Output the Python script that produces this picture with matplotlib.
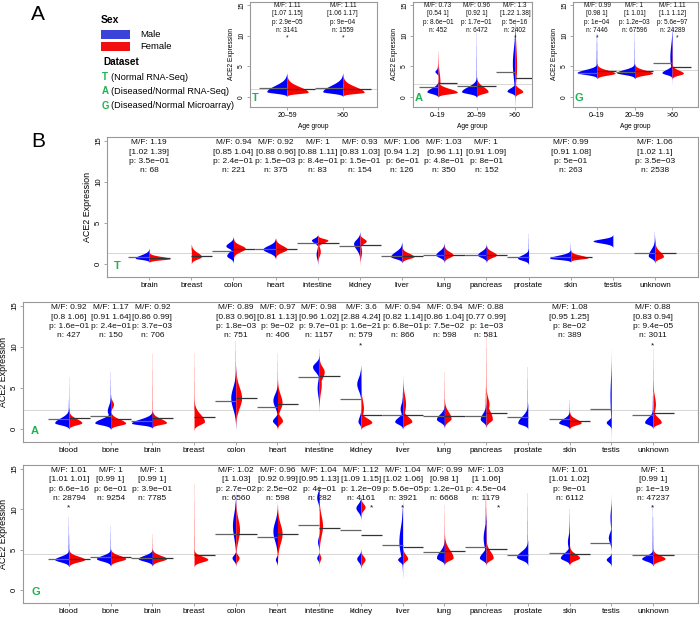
import numpy as np
import matplotlib
matplotlib.use("Agg")
import matplotlib.pyplot as plt
from matplotlib.patches import Rectangle

plt.rcParams['font.family'] = ['Liberation Sans', 'DejaVu Sans']

BLUE = '#0000ff'
RED = '#ff0000'
GREEN = '#1db34f'
FRAME = '#999999'

# ---------------------------------------------------------------------------
# Data: each half violin is a list of lumps (centre, sd below, sd above, width)
# ---------------------------------------------------------------------------

# --- A: age groups -----------------------------------------------------------
age_t_cats = ['20–59', '>60']
age_t_male = [[(0.9, 0.25, 1.0, 0.36)], [(0.9, 0.25, 1.0, 0.36)]]
age_t_female = [[(0.8, 0.2, 0.9, 0.38)], [(0.8, 0.2, 0.9, 0.38)]]
age_t_tail_m = [3.4, 3.4]
age_t_tail_f = [3.4, 3.4]
age_t_med_m = [1.45, 1.5]
age_t_med_f = [1.35, 1.35]
age_t_stats = [('1.11', '1.07 1.15', '2.9e−05', '3141'),
               ('1.11', '1.06 1.17', '9e−04', '1559')]
age_t_star = [0, 0]
age_t_ref = 1.4

age_a_cats = ['0–19', '20–59', '>60']
age_a_male = [[(0.9, 0.3, 0.6, 0.29), (4.2, 0.3, 0.3, 0.08)],
              [(0.9, 0.3, 0.8, 0.39)],
              [(1.0, 0.3, 0.5, 0.21), (5.5, 2.5, 2.5, 0.07)]]
age_a_female = [[(0.8, 0.25, 0.6, 0.5), (2.5, 0.5, 1.5, 0.05)],
                [(0.9, 0.3, 0.8, 0.3)],
                [(0.9, 0.3, 0.5, 0.2), (5.0, 2.0, 3.0, 0.04)]]
age_a_tail_m = [5.0, 10.5, 9.5]
age_a_tail_f = [7.6, 10.5, 9.5]
age_a_med_m = [1.7, 1.8, 4.1]
age_a_med_f = [2.3, 1.85, 3.2]
age_a_stats = [('0.73', '0.54 1', '8.6e−01', '452'),
               ('0.96', '0.92 1', '1.7e−01', '6472'),
               ('1.3', '1.22 1.38', '5e−16', '2402')]
age_a_star = [None, None, 0]
age_a_ref = 2.2

age_g_cats = ['0–19', '20–59', '>60']
age_g_male = [[(4.0, 0.3, 0.5, 0.53)],
              [(4.0, 0.3, 0.5, 0.48)],
              [(4.0, 0.3, 0.5, 0.27), (6.5, 1.5, 2.0, 0.06)]]
age_g_female = [[(3.9, 0.3, 0.5, 0.48)],
                [(3.9, 0.3, 0.5, 0.48)],
                [(3.9, 0.3, 0.5, 0.3)]]
age_g_tail_m = [10.3, 10.5, 10.5]
age_g_tail_f = [10.3, 10.5, 9.0]
age_g_med_m = [4.0, 4.1, 5.6]
age_g_med_f = [4.2, 4.2, 4.9]
age_g_stats = [('0.99', '0.98 1', '1e−04', '7446'),
               ('1', '1 1.01', '1.2e−03', '67596'),
               ('1.11', '1.1 1.12', '5.6e−97', '24289')]
age_g_star = [0, None, 0.13]
age_g_ref = 4.5

# --- B: tissues --------------------------------------------------------------
b_t_cats = ['brain', 'breast', 'colon', 'heart', 'intestine', 'kidney', 'liver',
            'lung', 'pancreas', 'prostate', 'skin', 'testis', 'unknown']
b_t_male = [[(0.7, 0.15, 0.4, 0.33)],
            None,
            [(1.0, 0.3, 0.5, 0.16), (2.2, 0.3, 0.4, 0.18)],
            [(1.8, 0.4, 0.45, 0.3)],
            [(2.9, 0.3, 0.25, 0.15), (1.2, 0.5, 0.5, 0.04)],
            [(2.5, 0.7, 0.5, 0.15)],
            [(0.9, 0.25, 0.6, 0.27)],
            [(1.1, 0.3, 0.5, 0.2)],
            [(1.1, 0.3, 0.45, 0.21)],
            [(0.7, 0.25, 0.4, 0.26)],
            [(0.7, 0.15, 0.35, 0.5)],
            [(2.8, 0.25, 0.25, 0.47)],
            [(1.0, 0.3, 0.8, 0.16)]]
b_t_female = [[(0.65, 0.15, 0.25, 0.5)],
              [(0.9, 0.3, 0.5, 0.24)],
              [(1.9, 0.4, 0.4, 0.28)],
              [(1.8, 0.35, 0.45, 0.27)],
              [(2.9, 0.3, 0.2, 0.24), (1.5, 0.5, 0.6, 0.06)],
              [(2.8, 0.3, 0.3, 0.15), (1.5, 0.6, 0.6, 0.04)],
              [(0.9, 0.25, 0.4, 0.28)],
              [(1.1, 0.3, 0.4, 0.21)],
              [(1.1, 0.3, 0.4, 0.24)],
              None,
              [(0.75, 0.15, 0.3, 0.41)],
              None,
              [(0.9, 0.25, 0.6, 0.2)]]
b_t_tail_m = [2.1, None, 2.8, 3.0, 3.4, 3.3, 2.4, 2.6, 2.4, 3.6, 2.6, 3.3, 3.9]
b_t_tail_f = [1.2, 2.3, 2.9, 3.2, 3.4, 3.3, 1.8, 2.2, 2.2, None, 1.5, None, 2.5]
b_t_med_m = [0.8, None, 1.6, 1.85, 2.5, 2.2, 1.0, 1.1, 1.1, 0.9, 0.8, None, 1.35]
b_t_med_f = [0.7, 1.0, 1.8, 1.85, 2.5, 2.3, 0.95, 1.1, 1.1, None, 0.8, None, 1.35]
b_t_stats = [('1.19', '1.02 1.39', '3.5e−01', '68'),
             None,
             ('0.94', '0.85 1.04', '2.4e−01', '221'),
             ('0.92', '0.88 0.96', '1.5e−03', '375'),
             ('1', '0.88 1.11', '8.4e−01', '83'),
             ('0.93', '0.83 1.03', '1.5e−01', '154'),
             ('1.06', '0.94 1.2', '6e−01', '126'),
             ('1.03', '0.96 1.1', '4.8e−01', '350'),
             ('1', '0.91 1.09', '8e−01', '152'),
             None,
             ('0.99', '0.91 1.08', '5e−01', '263'),
             None,
             ('1.06', '1.02 1.1', '3.5e−03', '2538')]
b_t_star = [None] * 13
b_t_ref = 1.3

b_cats = ['blood', 'bone', 'brain', 'breast', 'colon', 'heart', 'intestine',
          'kidney', 'liver', 'lung', 'pancreas', 'prostate', 'skin', 'testis',
          'unknown']

b_a_male = [[(0.75, 0.25, 0.6, 0.34)],
            [(0.75, 0.25, 0.5, 0.38), (2.2, 0.5, 0.7, 0.08)],
            [(0.7, 0.2, 0.5, 0.5)],
            None,
            [(3.8, 1.3, 1.3, 0.12)],
            [(1.0, 0.35, 0.4, 0.12), (3.5, 0.8, 0.8, 0.11)],
            [(7.6, 0.6, 0.5, 0.16), (5.0, 1.0, 1.0, 0.05)],
            [(5.5, 0.8, 0.8, 0.1), (0.9, 0.3, 0.6, 0.07)],
            [(0.9, 0.3, 0.5, 0.19), (2.5, 0.6, 0.6, 0.06)],
            [(1.2, 0.35, 0.6, 0.19)],
            [(1.2, 0.35, 0.7, 0.14)],
            [(0.75, 0.25, 0.8, 0.24)],
            [(0.75, 0.25, 0.5, 0.26)],
            [(0.8, 0.3, 0.3, 0.12), (4.0, 2.0, 2.0, 0.03)],
            [(0.8, 0.25, 0.6, 0.2)]]
b_a_female = [[(0.75, 0.25, 0.5, 0.31)],
              [(0.7, 0.25, 0.5, 0.36), (3.0, 0.4, 0.4, 0.07)],
              [(0.75, 0.2, 0.5, 0.34)],
              [(0.9, 0.35, 0.9, 0.25)],
              [(3.8, 1.2, 1.3, 0.14)],
              [(1.0, 0.35, 0.5, 0.12), (3.2, 0.8, 1.0, 0.11)],
              [(7.0, 0.8, 0.6, 0.12), (5.5, 1.0, 1.0, 0.05)],
              [(0.8, 0.3, 0.5, 0.26), (2.5, 0.8, 1.0, 0.06)],
              [(0.9, 0.3, 0.6, 0.22), (3.0, 1.0, 1.2, 0.07)],
              [(1.3, 0.4, 0.8, 0.16)],
              [(1.2, 0.35, 1.0, 0.15), (3.0, 0.8, 0.8, 0.07)],
              None,
              [(0.75, 0.25, 0.45, 0.28)],
              None,
              [(0.8, 0.25, 0.6, 0.2), (3.0, 0.8, 1.0, 0.06)]]
b_a_tail_m = [3.5, 6.9, 9.1, None, 10.7, 6.1, 9.5, 7.2, 4.5, 4.0, 5.0, 7.5, 3.5, 7.6, 4.0]
b_a_tail_f = [6.4, 4.0, 9.1, 9.3, 8.0, 9.3, 9.7, 7.5, 9.0, 7.0, 11.8, None, 2.5, None, 9.8]
b_a_med_m = [1.2, 1.6, 0.95, None, 3.45, 2.7, 6.4, 3.6, 1.7, 1.6, 1.6, 1.4, 1.2, 2.4, 1.7]
b_a_med_f = [1.35, 1.2, 1.3, 1.45, 3.8, 3.0, 6.5, 1.7, 1.7, 1.6, 2.0, None, 1.0, None, 1.9]
b_a_stats = [('0.92', '0.8 1.06', '1.6e−01', '427'),
             ('1.17', '0.91 1.64', '2.4e−01', '150'),
             ('0.92', '0.86 0.99', '3.7e−03', '706'),
             None,
             ('0.89', '0.83 0.96', '1.8e−03', '751'),
             ('0.97', '0.81 1.13', '9e−02', '406'),
             ('0.98', '0.96 1.02', '9.7e−01', '1157'),
             ('3.6', '2.88 4.24', '1.6e−21', '579'),
             ('0.94', '0.82 1.14', '6.8e−01', '866'),
             ('0.94', '0.86 1.04', '7.5e−02', '598'),
             ('0.88', '0.77 0.99', '1e−03', '581'),
             None,
             ('1.08', '0.95 1.25', '8e−02', '389'),
             None,
             ('0.88', '0.83 0.94', '9.4e−05', '3011')]
b_a_star = [None] * 7 + [0] + [None] * 6 + [0]
b_a_ref = 2.3

b_g_male = [[(3.8, 0.3, 0.4, 0.34)],
            [(3.9, 0.3, 0.4, 0.34)],
            [(3.9, 0.3, 0.4, 0.34)],
            None,
            [(4.0, 0.35, 0.35, 0.09), (8.0, 1.5, 1.5, 0.08)],
            [(7.3, 1.2, 1.2, 0.11), (3.8, 0.3, 0.3, 0.05)],
            [(4.0, 0.3, 0.3, 0.06), (6.0, 0.5, 0.5, 0.04), (11.5, 0.6, 0.6, 0.06)],
            [(10.2, 0.5, 0.5, 0.12), (3.9, 0.4, 0.4, 0.1)],
            [(3.8, 0.3, 0.3, 0.12), (6.0, 1.5, 1.8, 0.09)],
            [(4.0, 0.3, 0.8, 0.19)],
            [(4.0, 0.3, 0.6, 0.16), (6.5, 1.2, 1.2, 0.07)],
            [(4.1, 0.35, 0.7, 0.27)],
            [(4.0, 0.3, 0.6, 0.22), (6.0, 0.8, 0.8, 0.05)],
            [(3.8, 0.3, 0.3, 0.12), (6.5, 0.6, 0.6, 0.07), (9.0, 1.0, 1.0, 0.03)],
            [(3.9, 0.3, 0.4, 0.27)]]
b_g_female = [[(3.8, 0.3, 0.4, 0.38)],
              [(3.9, 0.3, 0.4, 0.36)],
              [(3.9, 0.3, 0.4, 0.34)],
              [(3.8, 0.3, 0.4, 0.33)],
              [(4.0, 0.35, 0.35, 0.08), (7.5, 1.3, 1.3, 0.09)],
              [(7.0, 1.2, 1.2, 0.11)],
              [(8.0, 1.2, 1.2, 0.08), (4.0, 0.3, 0.3, 0.04)],
              [(10.3, 0.4, 0.4, 0.1), (3.8, 0.4, 0.4, 0.1)],
              [(3.9, 0.3, 0.5, 0.12)],
              [(4.0, 0.3, 1.0, 0.21)],
              [(4.0, 0.3, 0.8, 0.17)],
              None,
              [(4.0, 0.3, 0.5, 0.24)],
              None,
              [(3.9, 0.3, 0.4, 0.29)]]
b_g_tail_m = [9.1, 8.0, 9.0, None, 11.0, 9.8, 12.5, 11.0, 10.5, 10.5, 12.0, 12.0, 10.0, 11.8, 10.5]
b_g_tail_f = [7.0, 6.5, 7.0, 13.2, 10.0, 9.8, 10.0, 11.0, 8.0, 10.5, 12.0, None, 7.5, None, 9.0]
b_g_med_m = [3.8, 4.15, 4.0, None, 7.0, 6.6, 8.1, 7.5, 5.6, 4.7, 5.3, 4.3, 4.6, 5.8, 4.4]
b_g_med_f = [3.85, 4.1, 4.0, 4.3, 7.0, 7.0, 7.7, 6.8, 5.4, 4.9, 5.1, None, 4.5, None, 4.4]
b_g_stats = [('1.01', '1.01 1.01', '6.6e−16', '28794'),
             ('1', '0.99 1', '6e−01', '9254'),
             ('1', '0.99 1', '3.9e−01', '7785'),
             None,
             ('1.02', '1 1.03', '2.7e−02', '6560'),
             ('0.96', '0.92 0.99', '2.5e−02', '598'),
             ('1.04', '0.95 1.13', '4e−01', '282'),
             ('1.12', '1.09 1.15', '1.2e−09', '4161'),
             ('1.04', '1.02 1.06', '5.6e−05', '3921'),
             ('0.99', '0.98 1', '1.2e−01', '6668'),
             ('1.03', '1 1.06', '4.5e−04', '1179'),
             None,
             ('1.01', '1.01 1.02', '9e−01', '6112'),
             None,
             ('1', '0.99 1', '1e−19', '47237')]
b_g_star = [0, None, None, None, None, None, None, 0.25, 0, None, 0.3, None, None, None, 0]
b_g_ref = 4.5


# ---------------------------------------------------------------------------
# Helpers
# ---------------------------------------------------------------------------

def half_violin(ax, x, lumps, tail, side, color):
    """Draw one half of a split violin from a few lump parameters."""
    if not lumps:
        return
    lo = min(c - 3 * sd for c, sd, su, w in lumps)
    hi = max(c + 3 * su for c, sd, su, w in lumps)
    y = np.linspace(lo, hi, 400)
    w = np.zeros_like(y)
    for c, sd, su, wd in lumps:
        s = np.where(y < c, sd, su)
        w = np.maximum(w, wd * np.exp(-0.5 * ((y - c) / s) ** 2))
    ax.fill_betweenx(y, x, x + side * w, color=color, lw=0, zorder=2)
    if tail is not None:
        start = max(c + 1.5 * su for c, sd, su, w in lumps)
        if tail > start:
            edges = np.linspace(start, tail, 5)
            for k in range(4):
                ax.fill_betweenx([edges[k], edges[k + 1]], x, x + side * 0.015,
                                 color=color, alpha=0.35 - 0.08 * k, lw=0, zorder=2)


def style_axis(ax, cats, xlim, label_size, tick_size, letter, pos0=0):
    ax.set_xlim(*xlim)
    ax.set_ylim(-1.6, 15.5)
    for s in ax.spines.values():
        s.set_color(FRAME)
        s.set_linewidth(0.8)
    ax.set_xticks(np.arange(len(cats)) + pos0)
    ax.set_xticklabels(cats, fontsize=label_size)
    ax.set_yticks([0, 5, 10, 15])
    ax.set_yticklabels(['0', '5', '10', '15'], fontsize=tick_size,
                       rotation=90, va='center')
    ax.tick_params(axis='both', length=2.5, width=0.6, color=FRAME, pad=1.0)
    ax.text(0.012, 0.04, letter, transform=ax.transAxes, color=GREEN,
            fontsize=8, fontweight='bold', ha='left', va='bottom')


def draw_panel(ax, cats, male, female, tail_m, tail_f, med_m, med_f, stats,
               stars, ref, text_top, text_dy, text_size, star_y, pos0=0):
    ax.axhline(ref, color='#d0d0d0', lw=0.6, zorder=1)
    for i in range(len(cats)):
        x = i + pos0
        half_violin(ax, x, male[i], tail_m[i], -1, BLUE)
        half_violin(ax, x, female[i], tail_f[i], 1, RED)
        if med_m[i] is not None:
            ax.hlines(med_m[i], x - 0.5, x, color='#666666', lw=0.9, zorder=3)
        if med_f[i] is not None:
            ax.hlines(med_f[i], x, x + 0.5, color='#333333', lw=0.9, zorder=3)
        if stats[i] is not None:
            ratio, ci, p, n = stats[i]
            lines = ['M/F: ' + ratio, '[' + ci + ']', 'p: ' + p, 'n: ' + n]
            for k, line in enumerate(lines):
                ax.text(x, text_top - k * text_dy, line, ha='center',
                        va='center', fontsize=text_size, color='#111111')
        if stars[i] is not None:
            ax.text(x + stars[i], star_y, '*', ha='center', va='center',
                    fontsize=text_size, color='#111111')


def rect(x0, y0, x1, y1):
    """Pixel box (700x617 canvas) to figure fraction rect."""
    return [x0 / 700, 1 - y1 / 617, (x1 - x0) / 700, (y1 - y0) / 617]


# ---------------------------------------------------------------------------
# Figure
# ---------------------------------------------------------------------------

fig = plt.figure(figsize=(7.0, 6.17), dpi=100)

# legend / panel labels
fig.text(38 / 700, 1 - 14 / 617, 'A', fontsize=15, ha='center', va='center')
fig.text(38 / 700, 1 - 142 / 617, 'B', fontsize=15, ha='center', va='center')
fig.text(101 / 700, 1 - 20 / 617, 'Sex', fontsize=7.5, fontweight='bold', va='center')
fig.add_artist(Rectangle((101 / 700, 1 - 39 / 617), 29 / 700, 8.5 / 617,
                         transform=fig.transFigure, color='#3a44d8', lw=0))
fig.add_artist(Rectangle((101 / 700, 1 - 51 / 617), 29 / 700, 8.5 / 617,
                         transform=fig.transFigure, color='#f01010', lw=0))
fig.text(140 / 700, 1 - 34.5 / 617, 'Male', fontsize=6.8, va='center')
fig.text(140 / 700, 1 - 46.5 / 617, 'Female', fontsize=6.8, va='center')
fig.text(103 / 700, 1 - 62 / 617, 'Dataset', fontsize=7.2, fontweight='bold', va='center')
legend_rows = [('T', '(Normal RNA-Seq)', 77),
               ('A', '(Diseased/Normal RNA-Seq)', 91),
               ('G', '(Diseased/Normal Microarray)', 106)]
for letter, desc, ypx in legend_rows:
    fig.text(102 / 700, 1 - ypx / 617, letter, fontsize=7.0, fontweight='bold',
             color=GREEN, va='center')
    fig.text(111 / 700, 1 - ypx / 617, desc, fontsize=6.6, va='center')

# age panels
age_panels = [
    (rect(250, 2, 377, 107), (0.34, 2.61), age_t_cats, age_t_male, age_t_female,
     age_t_tail_m, age_t_tail_f, age_t_med_m, age_t_med_f, age_t_stats,
     age_t_star, age_t_ref, 'T'),
    (rect(413, 2, 532, 107), (0.35, 3.44), age_a_cats, age_a_male, age_a_female,
     age_a_tail_m, age_a_tail_f, age_a_med_m, age_a_med_f, age_a_stats,
     age_a_star, age_a_ref, 'A'),
    (rect(573, 2, 698, 107), (0.36, 3.69), age_g_cats, age_g_male, age_g_female,
     age_g_tail_m, age_g_tail_f, age_g_med_m, age_g_med_f, age_g_stats,
     age_g_star, age_g_ref, 'G'),
]
for (r, xl, cats, m, f, tm, tf, mm, mf, st, stars, ref, letter) in age_panels:
    ax = fig.add_axes(r)
    draw_panel(ax, cats, m, f, tm, tf, mm, mf, st, stars, ref,
               text_top=15.0, text_dy=1.4, text_size=4.7, star_y=9.7, pos0=1)
    style_axis(ax, cats, xl, 5.0, 4.8, letter, pos0=1)
    ax.set_ylabel('ACE2 Expression', fontsize=4.8, labelpad=2)
    ax.set_xlabel('Age group', fontsize=4.8, labelpad=3)

# tissue panels
b_panels = [
    (rect(107, 137, 698, 277), (-1.0, 13.02), b_t_cats, b_t_male, b_t_female,
     b_t_tail_m, b_t_tail_f, b_t_med_m, b_t_med_f, b_t_stats, b_t_star,
     b_t_ref, 'T'),
    (rect(23, 302, 698, 442), (-1.1, 15.08), b_cats, b_a_male, b_a_female,
     b_a_tail_m, b_a_tail_f, b_a_med_m, b_a_med_f, b_a_stats, b_a_star,
     b_a_ref, 'A'),
    (rect(23, 465, 698, 603), (-1.1, 15.08), b_cats, b_g_male, b_g_female,
     b_g_tail_m, b_g_tail_f, b_g_med_m, b_g_med_f, b_g_stats, b_g_star,
     b_g_ref, 'G'),
]
for (r, xl, cats, m, f, tm, tf, mm, mf, st, stars, ref, letter) in b_panels:
    ax = fig.add_axes(r)
    draw_panel(ax, cats, m, f, tm, tf, mm, mf, st, stars, ref,
               text_top=14.8, text_dy=1.15, text_size=6.0, star_y=10.2)
    style_axis(ax, cats, xl, 5.8, 5.6, letter)
    ax.set_ylabel('ACE2 Expression', fontsize=6.4, labelpad=2)

fig.savefig('out.png', dpi=100)
